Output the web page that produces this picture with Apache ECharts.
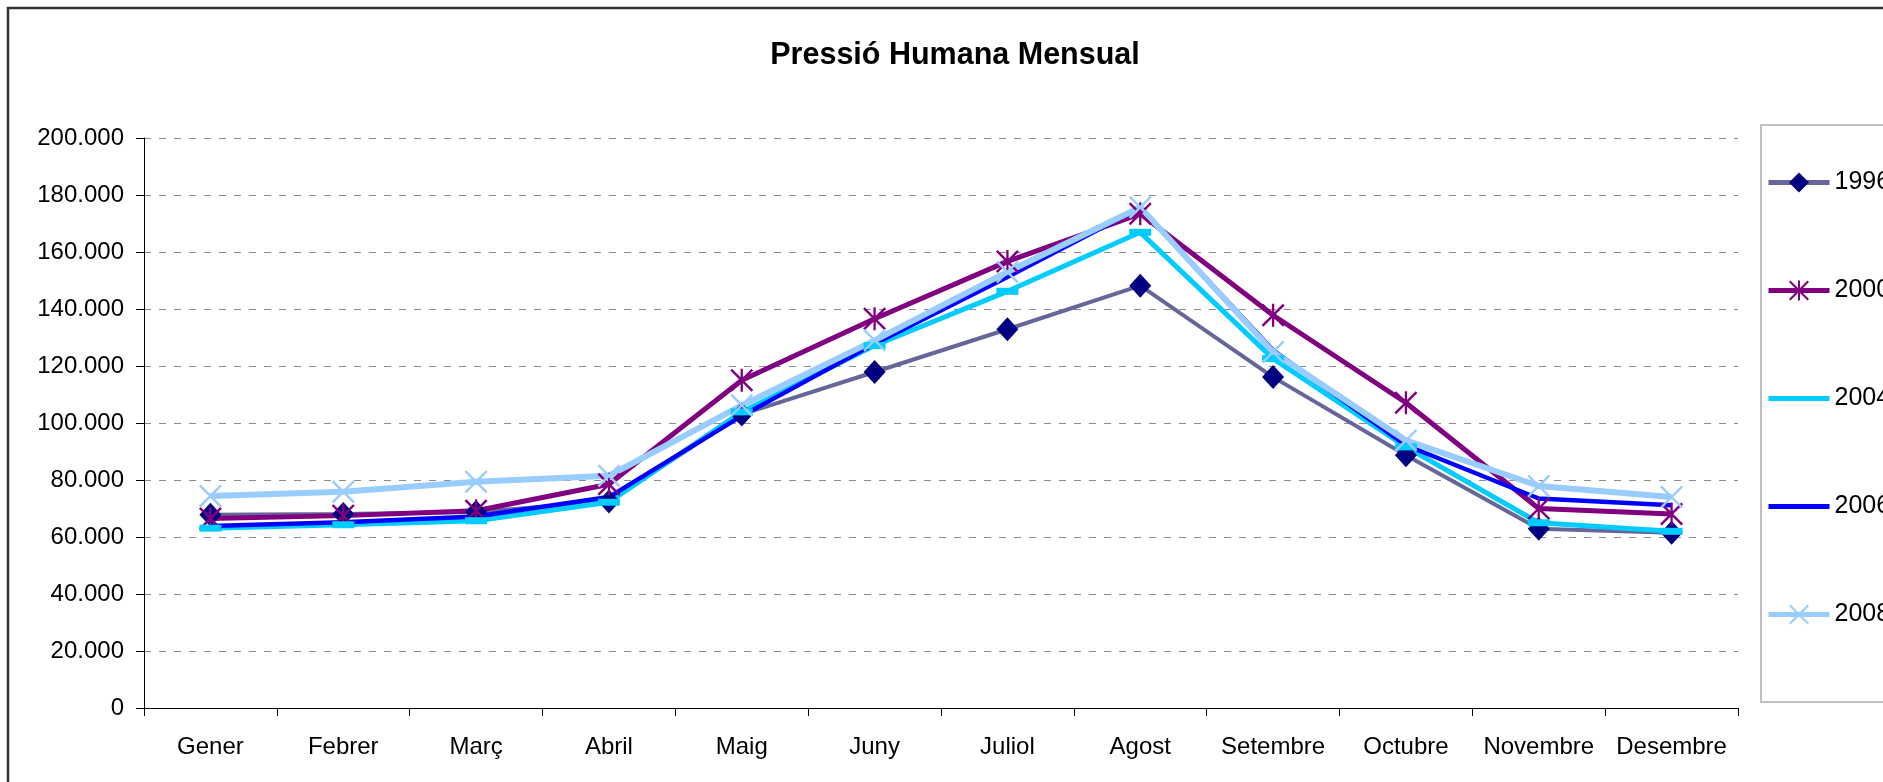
<!DOCTYPE html>
<html>
<head>
<meta charset="utf-8">
<script src="https://cdn.jsdelivr.net/npm/echarts@6/dist/echarts.min.js"></script>
<style>
html,body{margin:0;padding:0;background:#fff;}
#chart{width:1883px;height:782px;}
</style>
</head>
<body>
<div id="chart"></div>
<script>
const categories = ['Gener','Febrer','Març','Abril','Maig','Juny','Juliol','Agost','Setembre','Octubre','Novembre','Desembre'];
const s1996 = [67800, 68100, 68800, 72500, 103000, 117900, 132900, 148200, 116100, 88700, 62900, 61500];
const s2000 = [66500, 67500, 69200, 78500, 115000, 136600, 156700, 173400, 137800, 107100, 70000, 68100];
const s2004 = [63100, 64300, 65700, 72200, 103900, 127200, 146200, 166900, 122600, 91600, 65000, 62000];
const s2006 = [63900, 65200, 67200, 74000, 102500, 127800, 151200, 175500, 125500, 92200, 73500, 71100];
const s2008 = [74400, 75900, 79400, 81500, 106200, 129000, 153000, 175700, 124900, 93900, 77900, 74000];
const seriesNames = ['1996','2000','2004','2006','2008'];

const FONT = '"Liberation Sans", Arial, sans-serif';
const xPath = 'path://M0,1.5 L1.5,0 L10,8.5 L18.5,0 L20,1.5 L11.5,10 L20,18.5 L18.5,20 L10,11.5 L1.5,20 L0,18.5 L8.5,10 Z';
const starPath = 'path://M0,1.5 L1.5,0 L10,8.5 L18.5,0 L20,1.5 L11.5,10 L20,18.5 L18.5,20 L10,11.5 L1.5,20 L0,18.5 L8.5,10 Z M9,0 L11,0 L11,20 L9,20 Z';
const fmt = v => String(v).replace(/\B(?=(\d{3})+(?!\d))/g, '.');

const colors = {
  '1996': { line: '#666699', mark: '#000080', width: 4 },
  '2000': { line: '#800080', mark: '#800080', width: 5 },
  '2004': { line: '#00ccff', mark: '#00ccff', width: 5 },
  '2006': { line: '#0000ff', mark: '#0000ff', width: 4.5 },
  '2008': { line: '#99ccff', mark: '#99ccff', width: 6 }
};

const legendData = seriesNames.map(n => ({
  name: n,
  lineStyle: { color: colors[n].line, width: 5, opacity: 1 },
  itemStyle: { color: colors[n].mark, opacity: (n === '2004' || n === '2006') ? 0 : 1 }
}));

const chart = echarts.init(document.getElementById('chart'), null, {renderer:'canvas'});
chart.setOption({
  animation: false,
  backgroundColor: '#fff',
  textStyle: { fontFamily: FONT },
  title: {
    text: 'Pressió Humana Mensual',
    left: 950, top: 35, textAlign: 'center',
    textStyle: { fontFamily: FONT, fontSize: 30.5, fontWeight: 'bold', color: '#000' }
  },
  graphic: [{
    type: 'rect', silent: true, z: -10,
    shape: { x: 8, y: 8, width: 2000, height: 2000 },
    style: { fill: 'none', stroke: '#333', lineWidth: 2.5 }
  }],
  legend: {
    orient: 'vertical',
    left: 1761, top: 125,
    padding: [45, 10, 75, 5],
    itemWidth: 61, itemHeight: 25, itemGap: 83,
    borderColor: '#c0c0c0', borderWidth: 2,
    textStyle: { fontFamily: FONT, fontSize: 25, color: '#000' },
    data: legendData
  },
  grid: { left: 144, right: 145, top: 138, bottom: 74, containLabel: false },
  xAxis: {
    type: 'category', data: categories, boundaryGap: true,
    axisLine: { lineStyle: { color: '#000', width: 1 } },
    axisTick: { show: true, length: 8, inside: false, lineStyle: { color: '#000' } },
    axisLabel: { fontFamily: FONT, fontSize: 24, color: '#000', margin: 27, interval: 0 },
    splitLine: { show: false }
  },
  yAxis: {
    type: 'value', min: 0, max: 200000, interval: 20000,
    axisLine: { show: true, lineStyle: { color: '#000', width: 1 } },
    axisTick: { show: true, length: 8, lineStyle: { color: '#000' } },
    axisLabel: { fontFamily: FONT, fontSize: 24, color: '#000', margin: 20, formatter: fmt },
    splitLine: { show: true, lineStyle: { color: '#8c8c8c', type: [7,8], width: 1 } }
  },
  series: [
    { name: '1996', type: 'line', data: s1996, symbol: 'diamond', symbolSize: [22,24],
      lineStyle: { color: colors['1996'].line, width: colors['1996'].width }, itemStyle: { color: colors['1996'].mark } },
    { name: '2000', type: 'line', data: s2000, symbol: starPath, symbolSize: 23,
      lineStyle: { color: colors['2000'].line, width: colors['2000'].width }, itemStyle: { color: colors['2000'].mark } },
    { name: '2004', type: 'line', data: s2004, symbol: 'rect', symbolSize: [22,7],
      lineStyle: { color: colors['2004'].line, width: colors['2004'].width }, itemStyle: { color: colors['2004'].mark } },
    { name: '2006', type: 'line', data: s2006, symbol: 'none',
      lineStyle: { color: colors['2006'].line, width: colors['2006'].width }, itemStyle: { color: colors['2006'].mark } },
    { name: '2008', type: 'line', data: s2008, symbol: xPath, symbolSize: 23,
      lineStyle: { color: colors['2008'].line, width: colors['2008'].width }, itemStyle: { color: colors['2008'].mark } }
  ]
});
</script>
</body>
</html>
